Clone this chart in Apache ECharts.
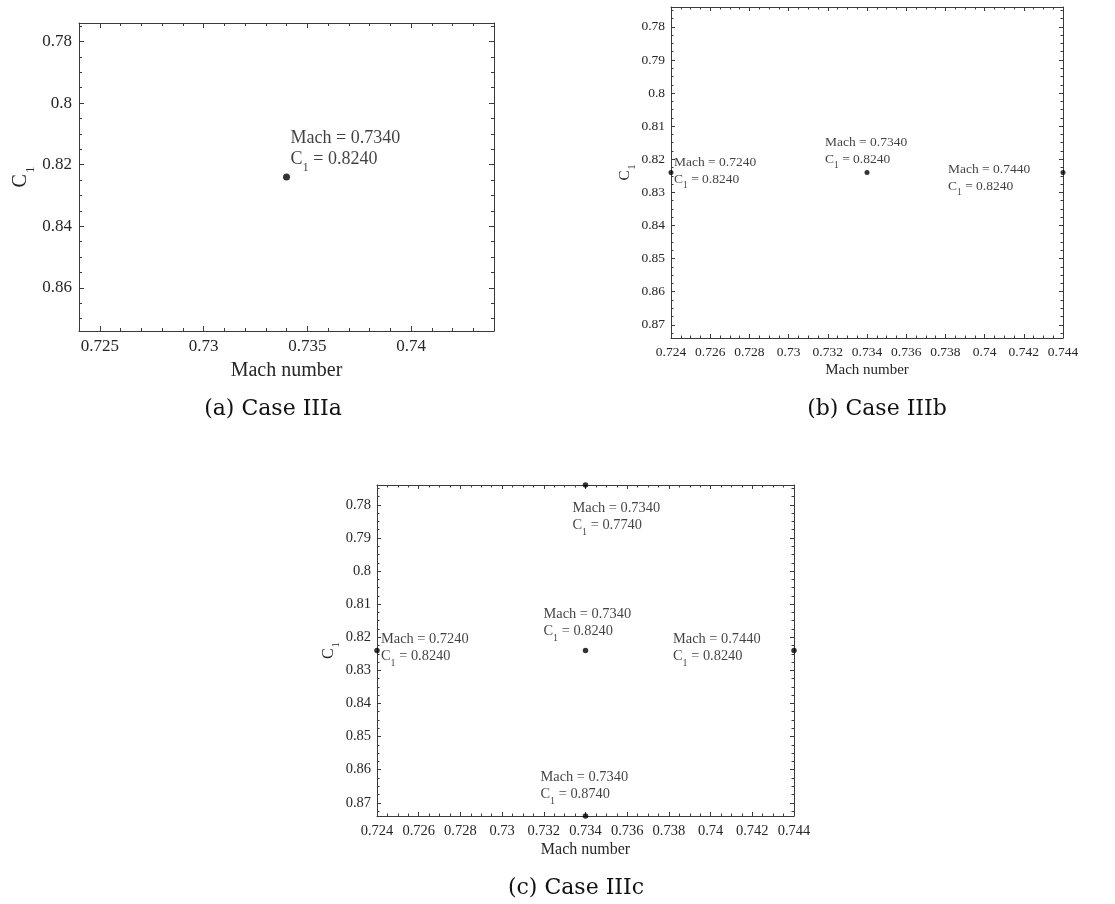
<!DOCTYPE html>
<html>
<head>
<meta charset="utf-8">
<script src="https://cdn.jsdelivr.net/npm/echarts@6/dist/echarts.min.js"></script>
<style>
html,body{margin:0;padding:0;background:#fff;}
#chart{width:1115px;height:904px;}
</style>
</head>
<body>
<div id="chart"></div>
<script>
// ---------------- data ----------------
const caseA_mach = [0.734];
const caseA_cl   = [0.824];

const caseB_mach = [0.724, 0.734, 0.744];
const caseB_cl   = [0.824, 0.824, 0.824];

const caseC_mach = [0.734, 0.724, 0.734, 0.744, 0.734];
const caseC_cl   = [0.774, 0.824, 0.824, 0.824, 0.874];

const machRange = [0.724, 0.744];
const clRange   = [0.774, 0.874];

const xTicksA = [0.725, 0.73, 0.735, 0.74];
const yTicksA = [0.78, 0.8, 0.82, 0.84, 0.86];
const xTicksBC = [0.724, 0.726, 0.728, 0.73, 0.732, 0.734, 0.736, 0.738, 0.74, 0.742, 0.744];
const yTicksBC = [0.78, 0.79, 0.8, 0.81, 0.82, 0.83, 0.84, 0.85, 0.86, 0.87];

const captions = ['(a) Case IIIa', '(b) Case IIIb', '(c) Case IIIc'];
const xTitle = 'Mach number';

// ---------------- helpers ----------------
function seq(a, b, step) {
  const out = [];
  const n = Math.round((b - a) / step);
  for (let i = 0; i <= n; i++) out.push(+(a + i * step).toFixed(6));
  return out;
}

const FONT = "'Liberation Serif', 'Times New Roman', serif";
const TXT = '#262626';
const AX = '#3a3a3a';

// layout / style per panel (not data)
const panels = [
  {
    grid: {left: 79, top: 23, width: 415, height: 308},
    mach: caseA_mach, cl: caseA_cl,
    xTicks: xTicksA, yTicks: yTicksA,
    xMinor: seq(0.724, 0.744, 0.001), yMinor: seq(0.775, 0.870, 0.005),
    tickFont: 17, nameFont: 20, subFont: 13, nameSubPad: 19,
    labFont: 18, labLH: 21, labSub: 12.5, labSubPad: 17,
    sym: 7, maj: 5, min: 3, xMargin: 7, yMargin: 7, xGap: 30, yGap: 47,
    labelPos: [[4, -49]],
    caption: {x: 273, y: 409}
  },
  {
    grid: {left: 671, top: 7, width: 392, height: 331},
    mach: caseB_mach, cl: caseB_cl,
    xTicks: xTicksBC, yTicks: yTicksBC,
    xMinor: seq(0.724, 0.744, 0.0005), yMinor: seq(0.775, 0.8725, 0.0025),
    tickFont: 13.5, nameFont: 15, subFont: 10, nameSubPad: 14,
    labFont: 13.5, labLH: 17, labSub: 9.5, labSubPad: 13,
    sym: 5, maj: 4, min: 2.5, xMargin: 7, yMargin: 6, xGap: 25, yGap: 34,
    labelPos: [[3, -19], [-42, -39], [-115, -12]],
    caption: {x: 877, y: 409}
  },
  {
    grid: {left: 377, top: 485, width: 417, height: 331},
    mach: caseC_mach, cl: caseC_cl,
    xTicks: xTicksBC, yTicks: yTicksBC,
    xMinor: seq(0.724, 0.744, 0.0005), yMinor: seq(0.775, 0.8725, 0.0025),
    tickFont: 14.5, nameFont: 16, subFont: 11, nameSubPad: 15,
    labFont: 14.4, labLH: 17, labSub: 10, labSubPad: 14,
    sym: 5.5, maj: 4, min: 2.5, xMargin: 8, yMargin: 6, xGap: 26, yGap: 39,
    labelPos: [[-13, 15], [4, -20], [-42, -45], [-121, -20], [-45, -47]],
    caption: {x: 576, y: 888}
  }
];

const grids = [], xAxes = [], yAxes = [], series = [], graphics = [];

panels.forEach((p, gi) => {
  grids.push(Object.assign({outerBoundsMode: 'none', containLabel: false}, p.grid));

  const lineStyle = {color: AX, width: 1};
  const tickLabel = {fontFamily: FONT, fontSize: p.tickFont, color: TXT};

  // ---- x axes ----
  const xBase = {gridIndex: gi, type: 'value', min: machRange[0], max: machRange[1],
                 splitLine: {show: false}, z: 5};
  const xMainIdx = xAxes.length;
  xAxes.push(Object.assign({}, xBase, {
    position: 'bottom',
    axisLine: {show: true, lineStyle},
    axisTick: {show: true, inside: true, length: p.maj, customValues: p.xTicks, lineStyle},
    axisLabel: Object.assign({show: true, customValues: p.xTicks, margin: p.xMargin, hideOverlap: false}, tickLabel),
    name: xTitle, nameLocation: 'middle', nameGap: p.xGap,
    nameTextStyle: {fontFamily: FONT, fontSize: p.nameFont, color: TXT}
  }));
  xAxes.push(Object.assign({}, xBase, {
    position: 'bottom', axisLine: {show: false},
    axisTick: {show: true, inside: true, length: p.min, customValues: p.xMinor, lineStyle},
    axisLabel: {show: false}
  }));
  xAxes.push(Object.assign({}, xBase, {
    position: 'top', axisLine: {show: true, lineStyle},
    axisTick: {show: true, inside: true, length: p.maj, customValues: p.xTicks, lineStyle},
    axisLabel: {show: false}
  }));
  xAxes.push(Object.assign({}, xBase, {
    position: 'top', axisLine: {show: false},
    axisTick: {show: true, inside: true, length: p.min, customValues: p.xMinor, lineStyle},
    axisLabel: {show: false}
  }));

  // ---- y axes ----
  const yBase = {gridIndex: gi, type: 'value', inverse: true, min: clRange[0], max: clRange[1],
                 splitLine: {show: false}, z: 5};
  const yMainIdx = yAxes.length;
  yAxes.push(Object.assign({}, yBase, {
    position: 'left',
    axisLine: {show: true, lineStyle},
    axisTick: {show: true, inside: true, length: p.maj, customValues: p.yTicks, lineStyle},
    axisLabel: Object.assign({show: true, customValues: p.yTicks, margin: p.yMargin, hideOverlap: false}, tickLabel),
    name: '{c|C}{s|1}', nameLocation: 'middle', nameGap: p.yGap, nameRotate: 90,
    nameTextStyle: {
      fontFamily: FONT, fontSize: p.nameFont, color: TXT,
      rich: {
        c: {fontFamily: FONT, fontSize: p.nameFont, color: TXT, lineHeight: p.nameFont + 2},
        s: {fontFamily: FONT, fontSize: p.subFont, color: TXT, lineHeight: p.nameFont + 2,
            padding: [p.nameSubPad, 0, 0, 1]}
      }
    }
  }));
  yAxes.push(Object.assign({}, yBase, {
    position: 'left', axisLine: {show: false},
    axisTick: {show: true, inside: true, length: p.min, customValues: p.yMinor, lineStyle},
    axisLabel: {show: false}
  }));
  yAxes.push(Object.assign({}, yBase, {
    position: 'right', axisLine: {show: true, lineStyle},
    axisTick: {show: true, inside: true, length: p.maj, customValues: p.yTicks, lineStyle},
    axisLabel: {show: false}
  }));
  yAxes.push(Object.assign({}, yBase, {
    position: 'right', axisLine: {show: false},
    axisTick: {show: true, inside: true, length: p.min, customValues: p.yMinor, lineStyle},
    axisLabel: {show: false}
  }));

  // ---- points ----
  const half = p.sym / 2;
  const data = p.mach.map((m, i) => ({
    value: [m, p.cl[i]],
    label: {
      show: true,
      position: [p.labelPos[i][0] + half, p.labelPos[i][1] + half],
      align: 'left', verticalAlign: 'top',
      formatter: '{m|Mach = ' + m.toFixed(4) + '}\n{m|C}{s|1}{m| = ' + p.cl[i].toFixed(4) + '}'
    }
  }));
  series.push({
    type: 'scatter', xAxisIndex: xMainIdx, yAxisIndex: yMainIdx,
    symbol: 'circle', symbolSize: p.sym, clip: false, silent: true,
    itemStyle: {color: '#000'},
    label: {
      rich: {
        m: {fontFamily: FONT, fontSize: p.labFont, lineHeight: p.labLH, color: '#111'},
        s: {fontFamily: FONT, fontSize: p.labSub, lineHeight: p.labLH, color: '#111',
            padding: [p.labSubPad, 0, 0, 0]}
      }
    },
    labelLayout: {hideOverlap: false},
    data: data,
    z: 10
  });

  graphics.push({
    type: 'text', x: p.caption.x, y: p.caption.y,
    style: {text: captions[gi], font: "22px 'DejaVu Serif', serif", fill: '#111',
            textAlign: 'center', textVerticalAlign: 'middle'}
  });
});

const chart = echarts.init(document.getElementById('chart'), null, {renderer: 'canvas'});
chart.setOption({
  animation: false,
  backgroundColor: '#ffffff',
  grid: grids,
  xAxis: xAxes,
  yAxis: yAxes,
  series: series,
  graphic: graphics
});
</script>
</body>
</html>
